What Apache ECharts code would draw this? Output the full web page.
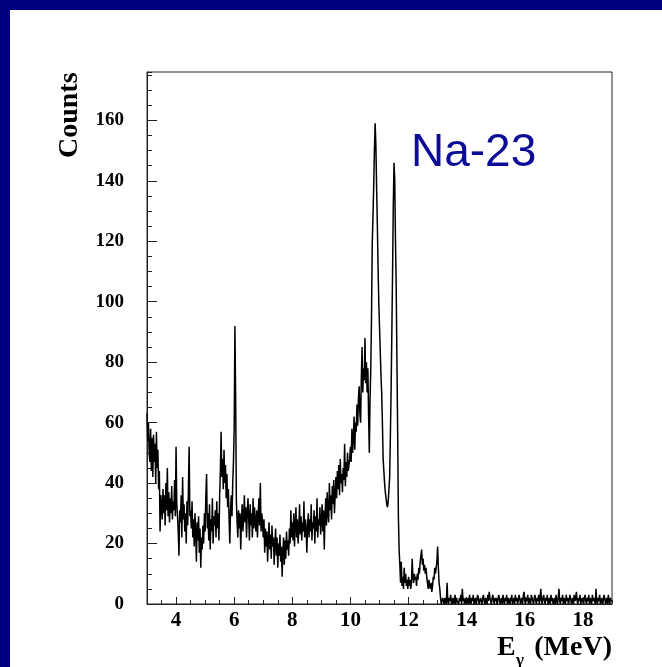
<!DOCTYPE html>
<html>
<head>
<meta charset="utf-8">
<title>Na-23 gamma spectrum</title>
<script src="https://cdn.jsdelivr.net/npm/echarts@6/dist/echarts.min.js"></script>
<style>
  html, body { margin: 0; padding: 0; background: #ffffff; }
  #chart { width: 662px; height: 667px; }
</style>
</head>
<body>
<div id="chart"></div>
<script>
// Histogram binning (MeV)
const binLow = 3.0;
const binWidth = 0.025;
const xMin = 3, xMax = 19;
const yMin = 0, yMax = 176;

// Counts per 0.025 MeV bin, one array per half MeV (name = lower edge)
const counts3p0  = [63, 54, 60, 50, 47, 58, 44, 55, 42, 56, 47, 53, 40, 57, 45, 51, 38, 44, 24, 36];
const counts3p5  = [33, 28, 38, 30, 36, 26, 40, 31, 45, 29, 37, 27, 35, 30, 39, 28, 34, 31, 41, 29];
const counts4p0  = [52, 33, 29, 24, 16, 31, 27, 36, 22, 42, 28, 33, 24, 30, 20, 34, 26, 38, 52, 29];
const counts4p5  = [31, 25, 34, 22, 28, 19, 30, 24, 14, 27, 21, 29, 17, 25, 12, 22, 18, 26, 20, 30];
const counts5p0  = [24, 36, 43, 25, 30, 21, 33, 18, 28, 24, 35, 20, 29, 26, 31, 22, 34, 25, 30, 21];
const counts5p5  = [36, 44, 57, 42, 48, 38, 51, 40, 46, 35, 43, 32, 38, 28, 20, 31, 36, 29, 40, 47];
const counts6p0  = [58, 92, 69, 34, 27, 22, 31, 25, 30, 18, 28, 33, 24, 29, 36, 27, 32, 22, 30, 35];
const counts6p5  = [28, 21, 33, 26, 30, 22, 35, 25, 32, 27, 24, 31, 22, 29, 35, 26, 40, 24, 30, 27];
const counts7p0  = [22, 28, 17, 25, 19, 24, 14, 21, 27, 18, 23, 15, 26, 19, 22, 13, 20, 25, 16, 22];
const counts7p5  = [12, 20, 16, 23, 14, 19, 9, 17, 22, 13, 21, 15, 24, 18, 21, 16, 25, 20, 31, 22];
const counts8p0  = [27, 21, 30, 19, 26, 32, 22, 28, 20, 25, 33, 23, 29, 21, 27, 24, 34, 22, 28, 25];
const counts8p5  = [17, 26, 30, 22, 28, 24, 33, 21, 27, 25, 31, 20, 29, 24, 35, 22, 28, 26, 32, 23];
const counts9p0  = [27, 33, 24, 31, 18, 29, 35, 26, 37, 30, 27, 40, 31, 36, 28, 39, 33, 41, 30, 36];
const counts9p5  = [42, 35, 44, 38, 46, 36, 48, 40, 43, 37, 45, 41, 53, 39, 47, 42, 50, 44, 46, 48];
const counts10p0 = [52, 47, 58, 50, 55, 62, 51, 60, 57, 66, 59, 68, 72, 63, 60, 75, 85, 70, 78, 74];
const counts10p5 = [88, 73, 80, 70, 78, 62, 50, 68, 78, 95, 119, 128, 138, 150, 159, 152, 138, 126, 112, 100];
const counts11p0 = [92, 84, 76, 70, 60, 48, 44, 40, 37, 35, 33, 32, 34, 38, 42, 56, 71, 90, 110, 132];
const counts11p5 = [146, 140, 120, 105, 80, 57, 29, 18, 13, 7, 14, 6, 9, 5, 12, 7, 10, 6, 8, 5];
const counts12p0 = [9, 6, 8, 5, 7, 15, 9, 7, 10, 8, 9, 6, 10, 8, 12, 10, 14, 16, 18, 13];
const counts12p5 = [15, 11, 13, 10, 12, 9, 7, 5, 8, 6, 5, 7, 4, 6, 9, 8, 12, 10, 12, 14];
const counts13p0 = [19, 12, 7, 5, 2, 0, 1, 2, 1, 0, 2, 1, 0, 7, 1, 0, 2, 1, 3, 0];
const counts13p5 = [1, 2, 0, 1, 3, 0, 2, 1, 1, 0, 2, 1, 3, 0, 5, 1, 2, 0, 1, 2];
const counts14p0 = [0, 1, 2, 0, 3, 1, 0, 2, 1, 3, 0, 1, 2, 0, 1, 3, 2, 0, 1, 2];
const counts14p5 = [1, 0, 2, 3, 1, 0, 2, 1, 0, 3, 1, 4, 2, 1, 0, 2, 3, 1, 0, 2];
const counts15p0 = [1, 2, 0, 1, 3, 2, 0, 1, 2, 0, 3, 1, 0, 2, 1, 3, 0, 2, 1, 0];
const counts15p5 = [2, 1, 3, 0, 1, 2, 0, 3, 1, 2, 0, 1, 3, 2, 0, 1, 2, 0, 3, 4];
const counts16p0 = [1, 0, 2, 1, 3, 0, 2, 1, 0, 3, 2, 1, 0, 2, 3, 1, 0, 2, 1, 3];
const counts16p5 = [0, 2, 5, 1, 0, 2, 3, 1, 0, 2, 1, 3, 0, 1, 2, 0, 3, 1, 2, 0];
const counts17p0 = [1, 2, 0, 3, 1, 0, 2, 5, 1, 0, 2, 1, 3, 0, 2, 1, 0, 3, 1, 2];
const counts17p5 = [0, 1, 3, 2, 0, 1, 2, 0, 3, 1, 2, 4, 1, 0, 2, 1, 3, 0, 1, 2];
const counts18p0 = [1, 0, 2, 3, 1, 0, 2, 1, 3, 0, 2, 1, 0, 3, 1, 2, 1, 0, 5, 1];
const counts18p5 = [0, 2, 1, 3, 0, 1, 2, 0, 1, 3, 2, 0, 1, 2, 0, 3, 1, 0, 2, 1];

// Tick labels
const xTickLabels = [4, 6, 8, 10, 12, 14, 16, 18];
const yTickStep = 20;

const counts = [].concat(
  counts3p0, counts3p5, counts4p0, counts4p5, counts5p0, counts5p5,
  counts6p0, counts6p5, counts7p0, counts7p5, counts8p0, counts8p5,
  counts9p0, counts9p5, counts10p0, counts10p5, counts11p0, counts11p5,
  counts12p0, counts12p5, counts13p0, counts13p5, counts14p0, counts14p5,
  counts15p0, counts15p5, counts16p0, counts16p5, counts17p0, counts17p5,
  counts18p0, counts18p5);

// Step histogram: one point per bin low edge, plus the closing upper edge
const histData = counts.map((c, i) => [+(binLow + i * binWidth).toFixed(3), c]);
histData.push([+(binLow + counts.length * binWidth).toFixed(3), counts[counts.length - 1]]);

const serif = '"Liberation Serif", "Times New Roman", serif';
const axisLabelStyle = { fontFamily: serif, fontWeight: 'bold', color: '#000' };

const chart = echarts.init(document.getElementById('chart'), null, { renderer: 'canvas' });

chart.setOption({
  animation: false,
  backgroundColor: '#ffffff',
  grid: {
    left: 147, right: 50, top: 72, bottom: 63,
    show: true, borderColor: '#222', borderWidth: 1, backgroundColor: 'transparent'
  },
  xAxis: [
    {
      type: 'value', min: xMin, max: xMax, interval: 1,
      axisLine: { show: true, lineStyle: { color: '#222', width: 1 } },
      axisTick: { show: true, inside: true, length: 7, customValues: xTickLabels,
                  lineStyle: { color: '#222', width: 1 } },
      axisLabel: Object.assign({ fontSize: 21, margin: 6, customValues: xTickLabels }, axisLabelStyle),
      splitLine: { show: false }
    },
    {
      type: 'value', min: xMin, max: xMax, interval: 0.5, position: 'bottom',
      axisLine: { show: false },
      axisTick: { show: true, inside: true, length: 4, lineStyle: { color: '#222', width: 1 } },
      axisLabel: { show: false },
      splitLine: { show: false }
    }
  ],
  yAxis: [
    {
      type: 'value', min: yMin, max: yMax, interval: yTickStep,
      axisLine: { show: true, lineStyle: { color: '#222', width: 1 } },
      axisTick: { show: true, inside: true, length: 10, lineStyle: { color: '#222', width: 1 } },
      axisLabel: Object.assign({ fontSize: 19, margin: 23, showMaxLabel: false }, axisLabelStyle),
      splitLine: { show: false }
    },
    {
      type: 'value', min: yMin, max: yMax, interval: 5, position: 'left',
      axisLine: { show: false },
      axisTick: { show: true, inside: true, length: 5, lineStyle: { color: '#222', width: 1 } },
      axisLabel: { show: false },
      splitLine: { show: false }
    }
  ],
  series: [
    {
      type: 'line',
      xAxisIndex: 0, yAxisIndex: 0,
      step: 'end',
      data: histData,
      showSymbol: false,
      clip: true,
      lineStyle: { color: '#000', width: 1.5 }
    }
  ],
  graphic: [
    // slide frame
    { type: 'rect', shape: { x: 0, y: 0, width: 662, height: 10 }, style: { fill: '#000080' }, silent: true },
    { type: 'rect', shape: { x: 0, y: 0, width: 10, height: 667 }, style: { fill: '#000080' }, silent: true },
    // y-axis title
    { type: 'text', x: 84, y: 158, rotation: Math.PI / 2,
      style: { text: 'Counts', font: 'bold 28px ' + serif, fill: '#000', align: 'left', verticalAlign: 'bottom' } },
    // x-axis title: E with subscript gamma
    { type: 'text', x: 497, y: 662,
      style: { text: 'E', font: 'bold 28px ' + serif, fill: '#000', align: 'left', verticalAlign: 'bottom' } },
    { type: 'text', x: 516, y: 669,
      style: { text: 'γ', font: 'bold 17px ' + serif, fill: '#000', align: 'left', verticalAlign: 'bottom' } },
    { type: 'text', x: 612, y: 662,
      style: { text: '(MeV)', font: 'bold 28px ' + serif, fill: '#000', align: 'right', verticalAlign: 'bottom' } },
    // isotope label
    { type: 'text', x: 411, y: 176,
      style: { text: 'Na-23', font: '46px "Liberation Sans", Arial, sans-serif', fill: '#0b0b98',
               align: 'left', verticalAlign: 'bottom' } }
  ]
});
</script>
</body>
</html>
